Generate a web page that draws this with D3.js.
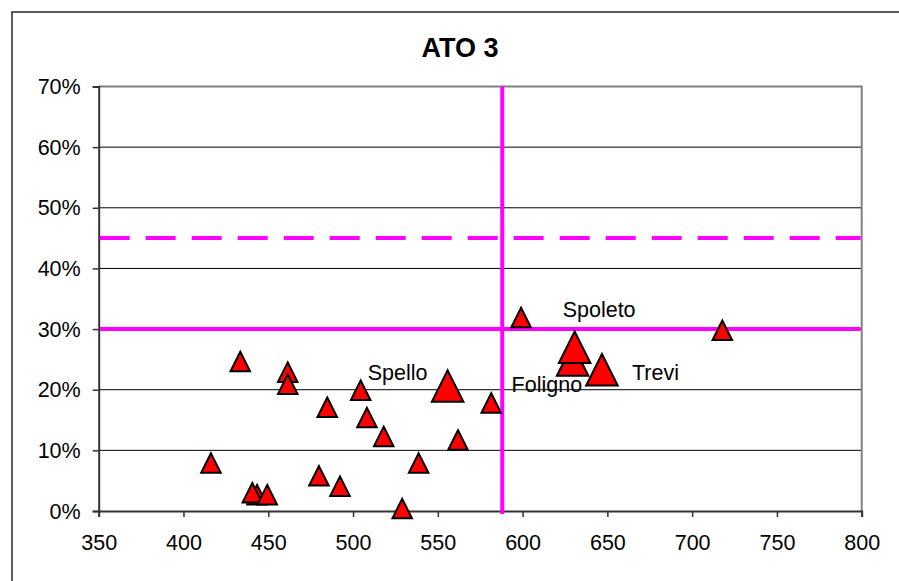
<!DOCTYPE html>
<html>
<head>
<meta charset="utf-8">
<script src="https://cdn.jsdelivr.net/npm/d3@7"></script>
<style>
  html, body { margin: 0; padding: 0; background: #fff; }
  svg { display: block; font-family: "Liberation Sans", Arial, sans-serif; }
</style>
</head>
<body>
<svg id="chart" width="899" height="581"></svg>
<script>
// Municipalities of ATO 3: x = indicator value, y = share (fraction)
const smallX = [433.5, 461.5, 461.5, 504.5, 484.8, 508.2, 518.1, 561.9, 416.2, 538.7, 479.9, 492.3, 443.4, 440.6, 449.4, 529.0, 599.1, 717.8, 581.5];
const smallY = [0.2465, 0.229, 0.209, 0.199, 0.171, 0.154, 0.123, 0.117, 0.079, 0.079, 0.058, 0.041, 0.027, 0.030, 0.027, 0.004, 0.319, 0.298, 0.178];

// Main municipalities (drawn with larger markers)
const bigNames = ["Spello", "Foligno", "Spoleto", "Trevi"];
const bigX = [555.8, 629.5, 630.7, 646.8];
const bigY = [0.206, 0.249, 0.270, 0.233];

// Reference thresholds
const thresholdX = 588;      // vertical line
const thresholdY = 0.30;     // solid horizontal line
const targetY = 0.45;        // dashed horizontal line

const xTicks = [350, 400, 450, 500, 550, 600, 650, 700, 750, 800];
const yTicks = [0, 0.1, 0.2, 0.3, 0.4, 0.5, 0.6, 0.7];
const title = "ATO 3";

(function draw() {
  const svg = d3.select("#chart");
  const pLeft = 98.7, pRight = 861.7, pTop = 86.5, pBottom = 511;

  const x = d3.scaleLinear().domain([350, 800]).range([pLeft, pRight]);
  const y = d3.scaleLinear().domain([0, 0.7]).range([pBottom, pTop]);

  // outer chart frame
  svg.append("rect")
    .attr("x", 12).attr("y", 12).attr("width", 1000).attr("height", 1000)
    .attr("fill", "#fff").attr("stroke", "#333").attr("stroke-width", 1.6);

  // title
  svg.append("text")
    .attr("x", 460).attr("y", 57)
    .attr("text-anchor", "middle")
    .attr("font-weight", "bold").attr("font-size", 27)
    .attr("fill", "#000")
    .text(title);

  // gridlines
  svg.append("g").selectAll("line")
    .data(yTicks.filter(t => t > 0 && t < 0.7))
    .join("line")
    .attr("x1", pLeft).attr("x2", pRight)
    .attr("y1", d => y(d)).attr("y2", d => y(d))
    .attr("stroke", "#000").attr("stroke-width", 1);

  // plot area border (top / right)
  svg.append("path")
    .attr("d", `M${pLeft},${pTop}H${pRight}V${pBottom}`)
    .attr("fill", "none").attr("stroke", "#808080").attr("stroke-width", 2);

  // axes
  const yAxis = svg.append("g")
    .attr("transform", `translate(${pLeft},0)`)
    .call(d3.axisLeft(y).tickValues(yTicks).tickFormat(d3.format(".0%")).tickSize(6).tickPadding(12));
  const xAxis = svg.append("g")
    .attr("transform", `translate(0,${pBottom})`)
    .call(d3.axisBottom(x).tickValues(xTicks).tickFormat(d3.format("d")).tickSize(6).tickPadding(18));

  [yAxis, xAxis].forEach(g => {
    g.select(".domain").attr("stroke", "#333").attr("stroke-width", 2);
    g.selectAll(".tick line").attr("stroke", "#333").attr("stroke-width", 1.5);
    g.selectAll(".tick text").attr("font-size", 21.5).attr("fill", "#000")
      .attr("font-family", "'Liberation Sans', Arial, sans-serif");
  });
  yAxis.selectAll(".tick text").attr("dy", "0.33em");

  // reference lines
  const magenta = "#ff00ff";
  svg.append("line")
    .attr("x1", pLeft + 1).attr("x2", pRight - 1)
    .attr("y1", y(targetY)).attr("y2", y(targetY))
    .attr("stroke", magenta).attr("stroke-width", 4)
    .attr("stroke-dasharray", "30,16");
  svg.append("line")
    .attr("x1", pLeft + 1).attr("x2", pRight - 1)
    .attr("y1", y(thresholdY)).attr("y2", y(thresholdY))
    .attr("stroke", magenta).attr("stroke-width", 4);
  svg.append("line")
    .attr("x1", x(thresholdX)).attr("x2", x(thresholdX))
    .attr("y1", pTop).attr("y2", pBottom + 3)
    .attr("stroke", magenta).attr("stroke-width", 4);

  // triangle markers
  function tri(cx, cy, s) {
    const h = s / 2;
    return `M${cx},${cy - h}L${cx + h},${cy + h}L${cx - h},${cy + h}Z`;
  }
  const small = smallX.map((v, i) => ({ x: v, y: smallY[i] }));
  const big = bigX.map((v, i) => ({ x: v, y: bigY[i], name: bigNames[i] }));

  svg.append("g").selectAll("path")
    .data(small)
    .join("path")
    .attr("d", d => tri(x(d.x), y(d.y), 19.5))
    .attr("fill", "#ff0000").attr("stroke", "#000").attr("stroke-width", 2);

  svg.append("g").selectAll("path")
    .data(big)
    .join("path")
    .attr("d", d => tri(x(d.x), y(d.y), 31.5))
    .attr("fill", "#ff0000").attr("stroke", "#000").attr("stroke-width", 2);

  // data labels for main municipalities
  const labelOffset = {
    "Spello":  [-80, -6],
    "Foligno": [-61, 32],
    "Spoleto": [-12, -30],
    "Trevi":   [30, 10]
  };
  svg.append("g").selectAll("text")
    .data(big)
    .join("text")
    .attr("x", d => x(d.x) + labelOffset[d.name][0])
    .attr("y", d => y(d.y) + labelOffset[d.name][1])
    .attr("font-size", 21.5).attr("fill", "#000")
    .text(d => d.name);
})();
</script>
</body>
</html>
